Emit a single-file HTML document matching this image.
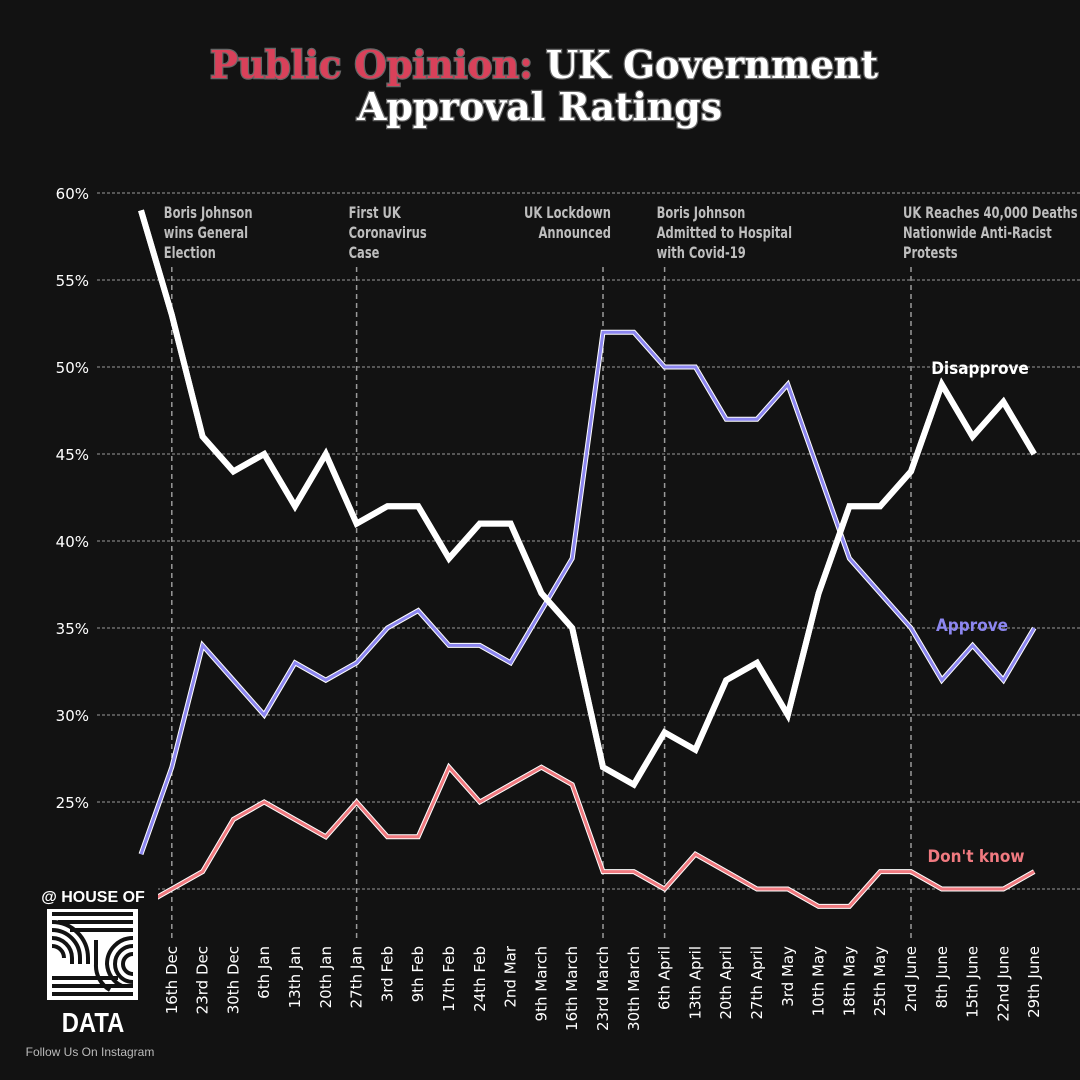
<!DOCTYPE html>
<html><head><meta charset="utf-8">
<style>
html,body{margin:0;padding:0;background:#121212;}
svg{display:block;}
.t{font-family:"DejaVu Serif","Liberation Serif",serif;font-weight:bold;font-size:38px;}
.ax{font-family:"DejaVu Sans","Liberation Sans",sans-serif;font-size:15px;fill:#fff;}
.ann{font-family:"DejaVu Sans","Liberation Sans",sans-serif;font-size:16px;fill:#bdbdbd;font-weight:bold;}
.lab{font-family:"DejaVu Sans","Liberation Sans",sans-serif;font-size:17px;font-weight:bold;}
</style></head>
<body>
<svg id="chart" width="1080" height="1080" viewBox="0 0 1080 1080">
<rect width="1080" height="1080" fill="#121212"/>
<text x="210" y="78" textLength="668" lengthAdjust="spacingAndGlyphs" class="t" stroke="#666" stroke-width="2.5" paint-order="stroke"><tspan fill="#d9415a">Public Opinion:</tspan><tspan fill="#fff">  UK Government</tspan></text>
<text x="357" y="120" textLength="365" lengthAdjust="spacingAndGlyphs" class="t" fill="#fff" stroke="#666" stroke-width="2.5" paint-order="stroke">Approval Ratings</text>
<g id="grid"></g>
<g id="events"></g>
<g id="xlabels"></g>
<g id="series"></g>
<text x="0" y="0" text-anchor="middle" class="lab" fill="#fff" transform="translate(980 374) scale(0.9 1)">Disapprove</text>
<text x="0" y="0" text-anchor="middle" class="lab" fill="#8c86f0" transform="translate(972 631) scale(0.9 1)">Approve</text>
<text x="0" y="0" text-anchor="middle" class="lab" fill="#f07a80" transform="translate(976 862) scale(0.9 1)">Don't know</text>
<g>
<rect x="0" y="880" width="158" height="160" fill="#121212"/>
<text x="93" y="902" text-anchor="middle" font-family="Liberation Sans,sans-serif" font-weight="bold" font-size="16" fill="#fff">@ HOUSE OF</text>
<rect x="47" y="909" width="91" height="91" fill="#fff"/>
<g stroke="#121212" stroke-width="4" fill="none">
<line x1="52" y1="914" x2="133" y2="914"/><line x1="58" y1="922" x2="133" y2="922"/><line x1="70" y1="930" x2="133" y2="930"/>
<line x1="52" y1="978" x2="118" y2="978"/><line x1="52" y1="986" x2="133" y2="986"/><line x1="52" y1="994" x2="133" y2="994"/>
<path d="M52 922 A36 36 0 0 1 88 958 L88 964 M52 930 A28 28 0 0 1 80 958 L80 964 M52 938 A20 20 0 0 1 72 958 L72 964 M52 946 A12 12 0 0 1 64 958"/>
<path d="M133 938 A26 26 0 0 0 107 964 A26 26 0 0 0 122 986 M133 946 A18 18 0 0 0 115 964 A18 18 0 0 0 133 982 M133 954 A10 10 0 0 0 123 964 A10 10 0 0 0 133 974 M96 940 L96 964 A28 28 0 0 0 110 990"/>
</g>
<text x="0" y="0" text-anchor="middle" font-family="Liberation Sans,sans-serif" font-weight="bold" font-size="28" fill="#fff" transform="translate(93 1032) scale(0.85 1)">DATA</text>
<text x="90" y="1056" text-anchor="middle" font-family="Liberation Sans,sans-serif" font-size="12" fill="#bbb">Follow Us On Instagram</text>
</g>
</svg>
<script>
const categories=["","16th Dec","23rd Dec","30th Dec","6th Jan","13th Jan","20th Jan","27th Jan","3rd Feb","9th Feb","17th Feb","24th Feb","2nd Mar","9th March","16th March","23rd March","30th March","6th April","13th April","20th April","27th April","3rd May","10th May","18th May","25th May","2nd June","8th June","15th June","22nd June","29th June"];
const disapprove=[59,53,46,44,45,42,45,41,42,42,39,41,41,37,35,27,26,29,28,32,33,30,37,42,42,44,49,46,48,45];
const approve=[22,27,34,32,30,33,32,33,35,36,34,34,33,36,39,52,52,50,50,47,47,49,44,39,37,35,32,34,32,35];
const dontKnow=[19,20,21,24,25,24,23,25,23,23,27,25,26,27,26,21,21,20,22,21,20,20,19,19,21,21,20,20,20,21];
const yTicks=[20,25,30,35,40,45,50,55,60];
const eventIdx=[1,7,15,17,25];
const eventText=[["Boris Johnson","wins General","Election"],["First UK","Coronavirus","Case"],["UK Lockdown","Announced"],["Boris Johnson","Admitted to Hospital","with Covid-19"],["UK Reaches 40,000 Deaths /","Nationwide Anti-Racist","Protests"]];
const NS="http://www.w3.org/2000/svg";
const x=i=>141+i*30.8;
const y=v=>193+(60-v)*17.4;
function mk(tag,attrs,parent){const e=document.createElementNS(NS,tag);for(const k in attrs)e.setAttribute(k,attrs[k]);parent.appendChild(e);return e;}
const grid=document.getElementById('grid');
yTicks.forEach(t=>{
 const l=mk('line',{x1:97,x2:1080,y1:y(t),y2:y(t),stroke:'#9a9a9a','stroke-width':1,'stroke-dasharray':'3 2'},grid);
 
 
 if(t>20){const tx=mk('text',{x:89,y:y(t)+6,'text-anchor':'end',class:'ax'},grid);tx.textContent=t+'%';
 
 }
});
const ev=document.getElementById('events');
eventIdx.forEach((ix,k)=>{
 const xi=x(ix);
 const l=mk('line',{x1:xi,x2:xi,y1:267,y2:942,stroke:'#9a9a9a','stroke-width':1.5,'stroke-dasharray':'5 4'},ev);
 
 
 const right=k===2;
 const ax=right?xi+8:xi-8;
 const t=mk('text',{x:0,y:0,'text-anchor':right?'end':'start',class:'ann',transform:`translate(${ax} 218) scale(0.72 1)`},ev);
 
 
 eventText[k].forEach((s,j)=>{const ts=mk('tspan',{x:0,dy:j?20:0},t);ts.textContent=s;});
});
const xl=document.getElementById('xlabels');
categories.forEach((c,i)=>{
 if(!c)return;
 const t=mk('text',{x:0,y:0,class:'ax','text-anchor':'end',transform:`translate(${x(i)+5} 946) rotate(-90)`},xl);
 t.textContent=c;
 
 
});
const sg=document.getElementById('series');
[[dontKnow,'#f07a80','dont-know-line'],[approve,'#8c86f0','approve-line'],[disapprove,'#ffffff','disapprove-line']].forEach(([d,c,n])=>{
 const pts=d.map((v,i)=>x(i)+','+y(v)).join(' ');
 const h=mk('polyline',{points:pts,fill:'none',stroke:'#fff','stroke-width':n==='disapprove-line'?6:5,'stroke-linejoin':'miter'},sg);
 
 
 const p=mk('polyline',{points:pts,fill:'none',stroke:c,'stroke-width':n==='disapprove-line'?6:3,'stroke-linejoin':'miter'},sg);
 
 
});
</script>
</body></html>
